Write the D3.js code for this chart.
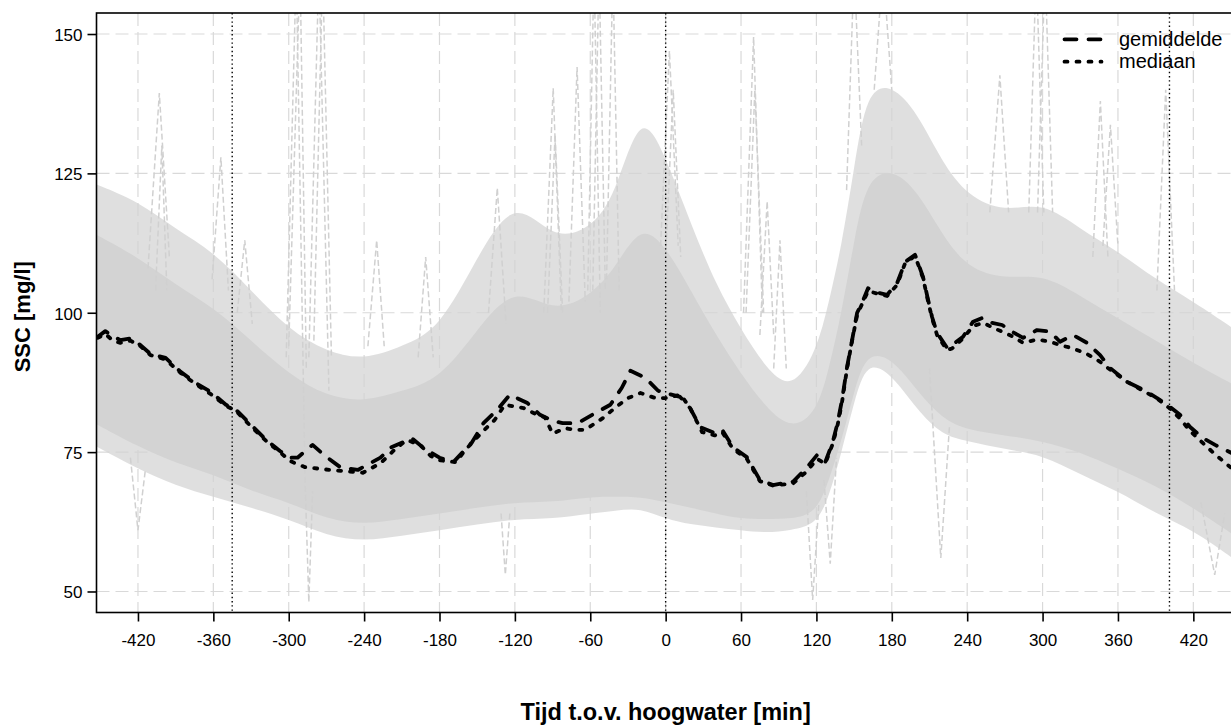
<!DOCTYPE html>
<html>
<head>
<meta charset="utf-8">
<script src="https://cdn.jsdelivr.net/npm/d3@7"></script>
<style>
  html, body { margin: 0; padding: 0; background: #fff; }
  svg { display: block; font-family: "Liberation Sans", Arial, sans-serif; }
</style>
</head>
<body>
<svg id="chart" width="1231" height="726"></svg>
<script>
// ---------- data ----------
const xTicks = [-420, -360, -300, -240, -180, -120, -60, 0, 60, 120, 180, 240, 300, 360, 420];
const yTicks = [50, 75, 100, 125, 150];
const markerTimes = [-345, 0, 401];

// mean (gemiddelde)
const meanTime = [-452,-446,-440,-434,-426,-418,-410,-398,-386,-374,-362,-350,-342,-330,-318,-307,-299,-293,-281,-272,-259,-245,-227,-219,-202,-193,-180,-169,-154,-145,-134,-124,-110,-100,-90,-82,-70,-56,-44,-35,-28,-16,-6,0,11.5,19.5,27.5,39,45,53.5,64.6,75,85.5,101.5,112.6,120.6,127,133,137,140.4,144.4,148.4,152.4,156.4,161.1,169,176.2,184.2,190.6,198.5,204.9,208.9,212.1,216,224,228,236.7,244.7,252.6,259.8,267.8,275.7,284.5,295.6,306,313.9,324.3,335.4,345.8,353.7,367.3,380,391.1,401.5,409.4,417.4,427.7,437.3,450];
const meanVal  = [95.7,96.7,95.8,95.1,95.4,94.2,92.6,91.9,89.4,87.4,85.8,83.5,82.6,79.9,77.2,75.2,74.0,74.0,76.3,74.5,72.3,71.8,74.0,75.8,77.5,75.8,74.0,73.2,76.8,80.2,82.6,85.3,83.8,81.7,80.6,80.2,80.2,82.0,83.5,86.5,89.6,88.3,86.0,85.6,84.9,82.9,79.5,78.4,79.0,75.9,74.1,70.0,69.1,69.7,72.3,74.5,73.2,76.8,80.4,84.4,90.3,95.1,100.0,101.8,104.4,103.6,103.2,105.3,109.1,110.4,106.4,102.3,99.2,96.4,93.7,94.2,95.7,98.4,99.1,98.2,97.8,96.6,95.5,96.9,96.6,94.8,96.0,94.6,92.4,90.1,87.6,86.2,84.7,83.1,81.7,79.5,77.5,76.3,74.9];

// median (mediaan)
const medianTime = [-452,-446,-440,-434,-426,-418,-410,-398,-386,-374,-362,-350,-342,-330,-318,-307,-299,-287,-271,-257,-241,-227,-215,-206,-195,-187,-179,-167,-159,-146,-136,-128,-113,-104,-96,-90,-80,-72,-64,-50,-40,-30,-20,-7,0,12,19.5,29,39,45,53.5,64.6,75,85.5,101.5,112.6,120.6,127,133,137,140.4,144.4,148.4,152.4,156.4,161.1,169,176.2,184.2,190.6,198.5,204.9,208.9,212.1,216,224,228,236.7,244.7,252.6,259.8,267.8,275.7,284.5,295.6,306,313.9,324.3,335.4,345.8,353.7,367.3,380,391.1,401.5,409.4,417.4,427.7,437.3,450];
const medianVal  = [95.5,96.2,95.0,94.6,95.0,94.0,92.4,91.6,89.2,87.2,85.4,83.3,82.4,79.6,77.0,75.0,73.4,72.3,71.9,71.6,71.3,73.0,75.6,77.2,76.2,74.3,73.5,73.2,75.5,78.6,80.8,83.5,82.9,81.9,81.2,78.3,79.3,79.0,79.0,81.1,83.0,84.7,85.6,84.6,84.7,85.3,82.9,78.6,78.0,78.6,75.6,73.8,69.8,69.0,69.4,71.6,73.8,72.9,76.5,80.0,84.0,90.0,95.0,99.6,101.6,103.9,103.4,103.0,105.0,108.9,110.2,106.2,102.0,99.0,96.0,93.3,93.6,95.4,97.6,98.2,97.4,96.6,95.8,94.6,95.2,94.8,94.2,93.6,92.6,91.2,89.8,87.6,86.0,84.6,82.8,81.0,78.8,76.6,74.6,72.2];

// envelope of the cloud of individual tides (light grey)
const bandTime   = [-453,-420,-390,-360,-330,-300,-270,-240,-210,-180,-150,-120,-90,-60,-40,-20,0,20,40,60,80,100,120,130,140,150,160,180,200,220,240,270,300,330,360,390,420,453];
const outerHigh  = [123,120,115,111,104,97,93,91.5,94,97,110,121,113,115,121,137,128,116,105,97,90,86,93,102,112,126,140,141,136,127,121,118,120,115,111,106,102,97];
const coreHigh   = [114,110,105,101,95,89,85,84,86,88,97,105,100,103,108,116,112,104,96,89,83,79,82,90,100,113,124,126,122,114,108,106,107,103,99,95,91,87];
const coreLow    = [80,76,73,71,68,66,63,62,63,64,65,66,66,67,67,67,66,65,64,63,63,63,64,70,77,86,93,92,86,81,79,78,77,75,72,69,65,60];
const outerLow   = [76,72,69,67,65,63,60,59,60,61,62,63,63,64,64.5,65,63,62,61.5,61,60.5,61,62,67,75,84,91.5,89,82.6,78,77,75.5,74.5,71,68,64,61,55.7];

// individual tides that stick out of the cloud (time, value)
const spikes = [
  [[-412,108],[-403,139.4],[-395,110]],
  [[-406,104],[-401,130],[-397,104]],
  [[-361,106],[-354,127.9],[-348,104]],
  [[-341,100],[-335,113],[-329,98]],
  [[-302,92],[-294,162],[-287,70],[-284,48.1],[-281,68]],
  [[-300,94],[-291,162],[-286,90]],
  [[-284,92],[-276,162],[-268,86]],
  [[-280,95],[-273,162],[-266,92]],
  [[-237,94],[-230,113],[-224,94]],
  [[-197,92],[-191,110],[-185,92]],
  [[-141,100],[-134,122.4],[-127,98]],
  [[-131,64],[-127.6,53],[-124,64]],
  [[-97,100],[-89.5,140.3],[-83,100]],
  [[-94,100],[-88,132],[-82,100]],
  [[-77,102],[-70.5,144.1],[-64,102]],
  [[-62,104],[-57,162],[-52,100]],
  [[-58,104],[-53,162],[-48,104]],
  [[-47,106],[-42,162],[-37,104]],
  [[-426,74],[-420,61],[-414,72]],
  [[-4,112],[3,147],[10,112]],
  [[0,110],[6,140],[12,110]],
  [[62,100],[70,149.5],[77,100]],
  [[64,100],[71,140],[78,100]],
  [[75,96],[80.8,120],[86,96]],
  [[86,90],[91,113],[96,90]],
  [[112,68],[117,48.5],[122,66]],
  [[126,70],[131,55],[136,74]],
  [[144,122],[150,162],[156,130]],
  [[166,140],[173,162],[180,140]],
  [[210,90],[219,56],[226,80]],
  [[258,118],[266,142.6],[273,118]],
  [[289,118],[295,162],[301,118]],
  [[296,118],[302,162],[308,118]],
  [[340,110],[346,138],[352,110]],
  [[348,112],[354,133.7],[360,112]],
  [[391,104],[398,140],[405,104]],
  [[426,66],[437,53],[445,64]]
];

// ---------- drawing ----------
const svg = d3.select("#chart");
const L = 96.5, R = 1234.8, T = 13, B = 612.5;
const x = d3.scaleLinear().domain([-453, 453]).range([L, R]);
const y = d3.scaleLinear().domain([46.23, 153.77]).range([B, T]);

svg.append("defs").append("clipPath").attr("id", "clip")
  .append("rect").attr("x", L).attr("y", T).attr("width", R - L).attr("height", B - T);

const plot = svg.append("g").attr("clip-path", "url(#clip)");

// grid
plot.selectAll("line.gx").data(xTicks).join("line")
  .attr("x1", d => x(d)).attr("x2", d => x(d)).attr("y1", T).attr("y2", B)
  .attr("stroke", "#d9d9d9").attr("stroke-width", 1.2).attr("stroke-dasharray", "13,6");
plot.selectAll("line.gy").data(yTicks).join("line")
  .attr("y1", d => y(d)).attr("y2", d => y(d)).attr("x1", L).attr("x2", R)
  .attr("stroke", "#d9d9d9").attr("stroke-width", 1.2).attr("stroke-dasharray", "13,6");

// grey cloud
const band = bandTime.map((t, i) => ({t, oh: outerHigh[i], ch: coreHigh[i], cl: coreLow[i], ol: outerLow[i]}));
const areaOuter = d3.area().curve(d3.curveBasis).x(d => x(d.t)).y0(d => y(d.ol)).y1(d => y(d.oh));
const areaCore = d3.area().curve(d3.curveBasis).x(d => x(d.t)).y0(d => y(d.cl)).y1(d => y(d.ch));
plot.append("path").datum(band).attr("d", areaOuter).attr("fill", "#d3d3d3").attr("fill-opacity", 0.72);
plot.append("path").datum(band).attr("d", areaCore).attr("fill", "#d3d3d3");

const lineXY = d3.line().x(d => x(d[0])).y(d => y(d[1]));
plot.selectAll("path.spike").data(spikes).join("path")
  .attr("class", "spike").attr("d", lineXY)
  .attr("fill", "none").attr("stroke", "#d0d0d0").attr("stroke-width", 1.5)
  .attr("stroke-dasharray", "6,3");

// vertical dotted markers
plot.selectAll("line.mk").data(markerTimes).join("line")
  .attr("x1", d => x(d)).attr("x2", d => x(d)).attr("y1", T).attr("y2", B)
  .attr("stroke", "#000").attr("stroke-width", 1.4).attr("stroke-dasharray", "1.4,2.8");

// mean and median
const meanData = meanTime.map((t, i) => [t, meanVal[i]]);
const medianData = medianTime.map((t, i) => [t, medianVal[i]]);
plot.append("path").datum(medianData).attr("d", lineXY)
  .attr("fill", "none").attr("stroke", "#000").attr("stroke-width", 3.8)
  .attr("stroke-linecap", "round").attr("stroke-linejoin", "round").attr("stroke-dasharray", "3,9");
plot.append("path").datum(meanData).attr("d", lineXY)
  .attr("fill", "none").attr("stroke", "#000").attr("stroke-width", 3.8)
  .attr("stroke-linecap", "round").attr("stroke-linejoin", "round").attr("stroke-dasharray", "12,12");

// box
svg.append("rect").attr("x", L).attr("y", T).attr("width", R - L).attr("height", B - T)
  .attr("fill", "none").attr("stroke", "#000").attr("stroke-width", 1.6);

// axes
const fmt = d => String(d);
const xAxis = svg.append("g").attr("transform", `translate(0,${B})`)
  .call(d3.axisBottom(x).tickValues(xTicks).tickSize(9).tickPadding(12).tickFormat(fmt));
const yAxis = svg.append("g").attr("transform", `translate(${L},0)`)
  .call(d3.axisLeft(y).tickValues(yTicks).tickSize(9).tickPadding(5).tickFormat(fmt));
[xAxis, yAxis].forEach(a => {
  a.select(".domain").remove();
  a.selectAll(".tick line").attr("stroke", "#000").attr("stroke-width", 1.6);
  a.selectAll(".tick text").attr("fill", "#000").attr("font-size", 17)
    .attr("font-family", "Liberation Sans, Arial, sans-serif");
});
yAxis.selectAll(".tick text").attr("dy", "0.38em");

// axis titles
svg.append("text").attr("x", (L + R) / 2).attr("y", 720).attr("text-anchor", "middle")
  .attr("font-size", 23.5).attr("font-weight", "bold").text("Tijd t.o.v. hoogwater [min]");
svg.append("text").attr("transform", `translate(30,${(T + B) / 2 + 4}) rotate(-90)`).attr("text-anchor", "middle")
  .attr("font-size", 22).attr("font-weight", "bold").text("SSC [mg/l]");

// legend
const legend = [
  {label: "gemiddelde", dash: "12,12", yy: 39.3, ty: 46},
  {label: "mediaan", dash: "3,9", yy: 61.7, ty: 68.3}
];
const lg = svg.append("g");
lg.selectAll("line").data(legend).join("line")
  .attr("x1", 1064.5).attr("x2", 1101.5).attr("y1", d => d.yy).attr("y2", d => d.yy)
  .attr("stroke", "#000").attr("stroke-width", 3.8).attr("stroke-linecap", "round")
  .attr("stroke-dasharray", d => d.dash);
lg.selectAll("text").data(legend).join("text")
  .attr("x", 1119).attr("y", d => d.ty).attr("font-size", 20).text(d => d.label);
</script>
</body>
</html>
